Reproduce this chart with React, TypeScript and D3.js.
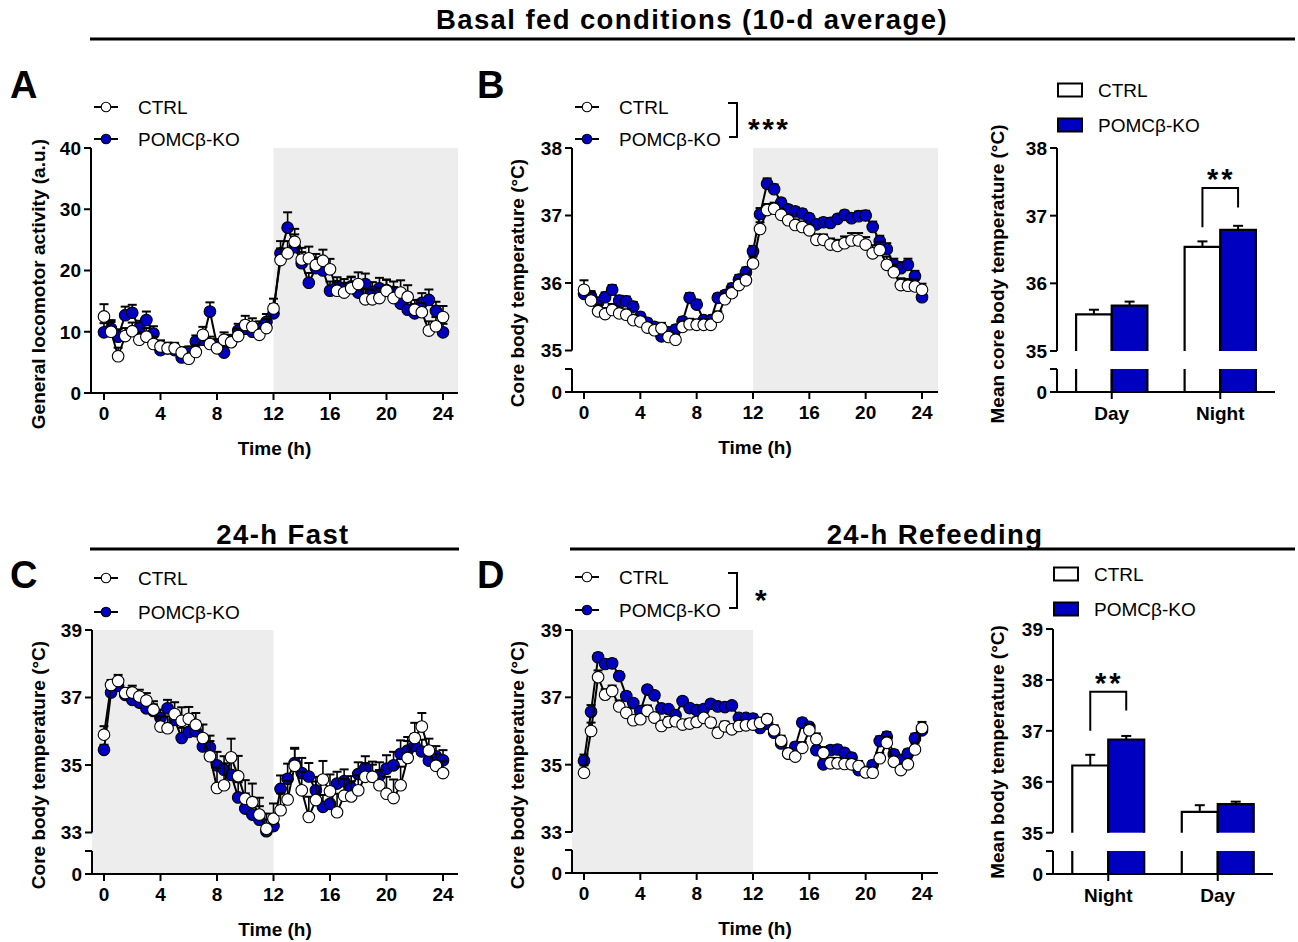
import * as d3 from 'd3';

const FONT = '"Liberation Sans", Arial, Helvetica, sans-serif';
const BLUE = '#0000C0';
const SHADE = '#EDEDED';
const INK = '#000';
const FS = 19;

// sampling times (h)
const HOURS = [0, 0.5, 1, 1.5, 2, 2.5, 3, 3.5, 4, 4.5, 5, 5.5, 6, 6.5, 7, 7.5, 8, 8.5, 9, 9.5, 10, 10.5, 11, 11.5, 12,
  12.5, 13, 13.5, 14, 14.5, 15, 15.5, 16, 16.5, 17, 17.5, 18, 18.5, 19, 19.5, 20, 20.5, 21, 21.5, 22, 22.5, 23, 23.5, 24];
const TIME_TICKS = [0, 4, 8, 12, 16, 20, 24];

// A - locomotor activity
const LOCO_CTRL = [12.5, 10.0, 6.0, 9.3, 10.1, 8.7, 9.2, 8.0, 7.6, 7.3, 7.3, 6.6, 5.6, 6.7, 9.5, 8.0, 7.3, 8.7, 8.3, 9.3, 11.1, 10.8, 9.5, 10.6, 13.8,
  21.7, 22.8, 24.7, 21.8, 22.0, 20.9, 21.6, 20.2, 16.7, 16.4, 17.1, 17.8, 15.3, 15.3, 15.5, 16.7, 15.5, 16.4, 15.7, 13.6, 13.2, 10.2, 10.9, 12.4];
const LOCO_CTRL_SEM = [2.0, 1.6, 1.4, 1.3, 1.4, 1.2, 1.4, 1.2, 1.0, 0.9, 0.9, 0.9, 1.0, 1.1, 1.3, 1.2, 1.0, 1.2, 1.1, 1.2, 1.5, 1.4, 1.2, 1.5, 1.6,
  1.9, 2.0, 2.1, 1.9, 1.9, 1.8, 1.8, 1.7, 1.6, 1.6, 1.8, 1.9, 1.7, 1.6, 1.7, 1.8, 1.8, 2.0, 1.9, 1.6, 1.5, 1.5, 1.5, 1.8];
const LOCO_KO = [9.9, 10.5, 9.2, 12.7, 13.1, 10.6, 11.9, 9.7, 7.0, 7.3, 7.0, 5.8, 6.7, 8.4, 8.7, 13.3, 7.8, 6.6, 8.5, 10.2, 10.5, 10.0, 10.5, 11.6, 13.0,
  22.8, 27.0, 23.8, 21.2, 18.0, 20.4, 20.0, 16.7, 17.4, 17.1, 17.4, 16.4, 17.8, 16.5, 17.1, 16.8, 16.5, 14.6, 13.6, 13.0, 14.7, 15.2, 13.4, 9.9];
const LOCO_KO_SEM = [1.5, 1.4, 1.2, 1.4, 1.3, 1.2, 1.4, 1.2, 0.9, 0.9, 0.9, 0.8, 0.9, 1.0, 1.1, 1.5, 1.0, 0.9, 1.0, 1.1, 1.3, 1.2, 1.2, 1.3, 1.5,
  2.0, 2.5, 2.1, 1.8, 1.6, 1.7, 1.7, 1.5, 1.5, 1.5, 1.6, 1.6, 1.7, 1.6, 1.7, 1.7, 1.7, 1.6, 1.5, 1.5, 1.6, 1.7, 1.5, 1.4];

// B - basal core temperature
const TB_CTRL = [35.90, 35.74, 35.58, 35.54, 35.60, 35.55, 35.53, 35.45, 35.43, 35.34, 35.30, 35.33, 35.20, 35.16, 35.35, 35.39, 35.38, 35.38, 35.38, 35.50, 35.76, 35.85, 35.97, 36.04, 36.29,
  36.80, 37.08, 37.10, 37.01, 36.93, 36.86, 36.83, 36.78, 36.64, 36.64, 36.57, 36.55, 36.59, 36.63, 36.63, 36.57, 36.44, 36.49, 36.27, 36.16, 35.97, 35.96, 35.95, 35.90];
const TB_CTRL_SEM = [0.14, 0.12, 0.10, 0.09, 0.09, 0.09, 0.08, 0.08, 0.08, 0.08, 0.08, 0.08, 0.08, 0.08, 0.08, 0.08, 0.08, 0.08, 0.08, 0.08, 0.09, 0.09, 0.09, 0.09, 0.10,
  0.10, 0.09, 0.09, 0.08, 0.08, 0.08, 0.08, 0.08, 0.08, 0.08, 0.09, 0.09, 0.10, 0.11, 0.11, 0.11, 0.12, 0.12, 0.12, 0.11, 0.10, 0.10, 0.10, 0.09];
const TB_KO = [35.84, 35.80, 35.71, 35.79, 35.90, 35.74, 35.73, 35.65, 35.50, 35.41, 35.35, 35.21, 35.27, 35.31, 35.43, 35.78, 35.68, 35.45, 35.45, 35.78, 35.82, 35.92, 36.05, 36.16, 36.47,
  37.02, 37.47, 37.39, 37.19, 37.09, 37.06, 37.03, 36.96, 36.87, 36.90, 36.89, 36.95, 37.01, 36.96, 36.99, 37.00, 36.83, 36.62, 36.50, 36.27, 36.22, 36.27, 36.10, 35.79];
const TB_KO_SEM = [0.08, 0.08, 0.07, 0.07, 0.07, 0.07, 0.07, 0.07, 0.06, 0.06, 0.06, 0.06, 0.06, 0.06, 0.06, 0.07, 0.07, 0.06, 0.06, 0.06, 0.06, 0.07, 0.07, 0.07, 0.08,
  0.09, 0.08, 0.07, 0.06, 0.06, 0.06, 0.06, 0.06, 0.06, 0.06, 0.06, 0.06, 0.06, 0.06, 0.07, 0.07, 0.08, 0.08, 0.09, 0.09, 0.09, 0.09, 0.08, 0.08];

// B - mean day / night
const BASAL_GROUPS = ['Day', 'Night'];
const BASAL_CTRL = [35.54, 36.54];
const BASAL_CTRL_SEM = [0.07, 0.08];
const BASAL_KO = [35.67, 36.79];
const BASAL_KO_SEM = [0.06, 0.06];

// C - 24-h fast
const TC_CTRL = [35.90, 37.37, 37.49, 37.13, 37.15, 37.03, 36.91, 36.64, 36.14, 36.09, 36.51, 36.31, 36.37, 36.19, 35.80, 35.26, 34.32, 34.40, 35.23, 34.67, 34.00, 33.90, 33.53, 33.11, 33.41,
  33.66, 33.98, 34.98, 34.25, 33.46, 33.96, 34.57, 34.22, 33.60, 34.09, 34.07, 34.25, 34.65, 34.65, 34.40, 34.15, 34.02, 34.40, 35.21, 35.80, 36.14, 35.43, 34.98, 34.76];
const TC_CTRL_SEM = [0.25, 0.15, 0.18, 0.15, 0.20, 0.20, 0.22, 0.25, 0.30, 0.35, 0.35, 0.40, 0.35, 0.35, 0.40, 0.45, 0.60, 0.65, 0.55, 0.60, 0.55, 0.55, 0.50, 0.45, 0.45,
  0.50, 0.55, 0.50, 0.55, 0.60, 0.55, 0.55, 0.50, 0.55, 0.50, 0.45, 0.45, 0.40, 0.45, 0.45, 0.50, 0.55, 0.55, 0.50, 0.45, 0.40, 0.35, 0.35, 0.35];
const TC_KO = [35.45, 37.15, 37.35, 37.08, 36.93, 36.85, 36.68, 36.60, 36.39, 36.68, 36.34, 35.80, 35.98, 36.00, 35.55, 35.52, 34.99, 34.86, 34.71, 34.04, 33.71, 33.53, 33.38, 33.04, 33.19,
  34.29, 34.59, 35.06, 34.76, 34.66, 34.25, 33.76, 33.85, 34.45, 34.52, 34.32, 34.73, 34.91, 34.66, 34.68, 34.89, 34.99, 35.33, 35.43, 35.57, 35.40, 35.13, 35.26, 35.14];
const TC_KO_SEM = [0.15, 0.15, 0.15, 0.15, 0.15, 0.18, 0.20, 0.20, 0.25, 0.25, 0.25, 0.30, 0.30, 0.30, 0.30, 0.35, 0.40, 0.40, 0.45, 0.45, 0.45, 0.40, 0.40, 0.35, 0.35,
  0.40, 0.45, 0.45, 0.45, 0.40, 0.40, 0.35, 0.35, 0.35, 0.35, 0.35, 0.35, 0.35, 0.35, 0.40, 0.40, 0.40, 0.40, 0.40, 0.35, 0.35, 0.35, 0.30, 0.30];

// D - 24-h refeeding
const TD_CTRL = [34.76, 36.00, 37.60, 37.08, 37.19, 36.73, 36.54, 36.32, 36.35, 36.60, 36.40, 36.15, 36.27, 36.29, 36.19, 36.22, 36.27, 36.39, 36.25, 35.95, 36.14, 36.05, 36.15, 36.17, 36.19,
  36.24, 36.35, 36.02, 35.71, 35.33, 35.24, 35.50, 36.02, 35.76, 35.35, 35.04, 35.04, 35.02, 35.01, 34.96, 34.77, 34.76, 35.19, 35.65, 35.09, 34.84, 35.01, 35.45, 36.09];
const TD_CTRL_SEM = [0.22, 0.25, 0.20, 0.16, 0.16, 0.18, 0.15, 0.14, 0.14, 0.16, 0.15, 0.14, 0.14, 0.13, 0.13, 0.13, 0.13, 0.13, 0.13, 0.14, 0.14, 0.14, 0.13, 0.13, 0.13,
  0.14, 0.14, 0.15, 0.15, 0.16, 0.16, 0.17, 0.18, 0.17, 0.17, 0.16, 0.16, 0.16, 0.15, 0.15, 0.15, 0.15, 0.16, 0.18, 0.17, 0.17, 0.17, 0.18, 0.18];
const TD_KO = [35.12, 36.57, 38.19, 37.99, 38.01, 37.63, 37.04, 36.83, 36.59, 37.23, 37.06, 36.67, 36.65, 36.47, 36.89, 36.68, 36.62, 36.65, 36.81, 36.73, 36.71, 36.76, 36.39, 36.39, 36.37,
  36.09, 36.22, 35.95, 35.63, 35.33, 35.53, 36.25, 36.12, 35.43, 35.01, 35.43, 35.45, 35.35, 35.21, 34.84, 34.79, 34.99, 35.70, 35.83, 35.31, 35.14, 35.33, 35.78, 36.02];
const TD_KO_SEM = [0.18, 0.20, 0.12, 0.12, 0.12, 0.12, 0.12, 0.10, 0.10, 0.10, 0.10, 0.10, 0.10, 0.10, 0.10, 0.10, 0.10, 0.10, 0.10, 0.10, 0.10, 0.10, 0.10, 0.10, 0.12,
  0.12, 0.14, 0.14, 0.12, 0.12, 0.12, 0.12, 0.12, 0.12, 0.12, 0.12, 0.12, 0.12, 0.12, 0.12, 0.12, 0.12, 0.14, 0.14, 0.12, 0.12, 0.12, 0.14, 0.14];

// D - mean night / day
const REFEED_GROUPS = ['Night', 'Day'];
const REFEED_CTRL = [36.32, 35.41];
const REFEED_CTRL_SEM = [0.21, 0.13];
const REFEED_KO = [36.83, 35.56];
const REFEED_KO_SEM = [0.07, 0.05];

type LineCfg = {
  axisX: number; x0: number; x1: number; right: number;
  top: number; low: number; base: number; breakAt: number | null;
  domain: [number, number]; ticks: number[]; shade: [number, number];
  ctrl: number[]; ctrlSem: number[]; ko: number[]; koSem: number[];
  yLabel: string; yLabelX: number; yLabelY: number; legendX: number; legendY: [number, number];
  sig?: { label: string; x: number; textX: number };
};

function TimePanel({ c }: { c: LineCfg }) {
  const x = d3.scaleLinear().domain([0, 24]).range([c.x0, c.x1]);
  const y = d3.scaleLinear().domain(c.domain).range([c.low, c.top]);
  const line = d3.line<number>().x((_, i) => x(HOURS[i])).y(v => y(v));
  const shadeL = c.shade[0] === 0 ? c.axisX : x(c.shade[0]);
  const shadeR = c.shade[1] === 24 ? c.right : x(c.shade[1]);
  const series = [
    { key: 'ko', vals: c.ko, sem: c.koSem, fill: BLUE },
    { key: 'ctrl', vals: c.ctrl, sem: c.ctrlSem, fill: '#fff' },
  ];
  const axisBottom = c.breakAt === null ? c.base : c.low;

  return (
    <g>
      <rect x={shadeL} y={c.top} width={shadeR - shadeL} height={c.base - c.top} fill={SHADE} />

      {/* y axis */}
      <line x1={c.axisX} x2={c.axisX} y1={c.top} y2={axisBottom} stroke={INK} strokeWidth={2} />
      {c.ticks.map(t => (
        <g key={t}>
          <line x1={c.axisX - 7} x2={c.axisX} y1={y(t)} y2={y(t)} stroke={INK} strokeWidth={2} />
          <text x={c.axisX - 10} y={y(t)} dy="0.36em" textAnchor="end" fontWeight="bold" fontSize={FS}>{t}</text>
        </g>
      ))}
      {c.breakAt !== null && (
        <g>
          <line x1={c.axisX - 7} x2={c.axisX} y1={c.breakAt} y2={c.breakAt} stroke={INK} strokeWidth={2} />
          <line x1={c.axisX} x2={c.axisX} y1={c.breakAt} y2={c.base} stroke={INK} strokeWidth={2} />
          <line x1={c.axisX - 7} x2={c.axisX} y1={c.base} y2={c.base} stroke={INK} strokeWidth={2} />
          <text x={c.axisX - 10} y={c.base} dy="0.36em" textAnchor="end" fontWeight="bold" fontSize={FS}>0</text>
        </g>
      )}

      {/* x axis */}
      <line x1={c.axisX} x2={c.right} y1={c.base} y2={c.base} stroke={INK} strokeWidth={2} />
      {TIME_TICKS.map(t => (
        <g key={t}>
          <line x1={x(t)} x2={x(t)} y1={c.base} y2={c.base + 7} stroke={INK} strokeWidth={2} />
          <text x={x(t)} y={c.base + 27} textAnchor="middle" fontWeight="bold" fontSize={FS}>{t}</text>
        </g>
      ))}
      <text x={(c.axisX + c.right) / 2} y={c.base + 62} textAnchor="middle" fontWeight="bold" fontSize={FS}>Time (h)</text>
      <text transform={`translate(${c.yLabelX},${c.yLabelY}) rotate(-90)`} dy="0.35em"
        textAnchor="middle" fontWeight="bold" fontSize={FS}>{c.yLabel}</text>

      {/* data: KO first, CTRL drawn on top */}
      {series.map(s => (
        <g key={s.key}>
          {s.vals.map((v, i) => (
            <g key={i}>
              <line x1={x(HOURS[i])} x2={x(HOURS[i])} y1={y(v)} y2={y(v + s.sem[i])} stroke={INK} strokeWidth={1.6} />
              <line x1={x(HOURS[i]) - 4.5} x2={x(HOURS[i]) + 4.5} y1={y(v + s.sem[i])} y2={y(v + s.sem[i])} stroke={INK} strokeWidth={2} />
            </g>
          ))}
          <path d={line(s.vals) ?? ''} fill="none" stroke={INK} strokeWidth={2} />
          {s.vals.map((v, i) => (
            <circle key={i} cx={x(HOURS[i])} cy={y(v)} r={5.8} fill={s.fill} stroke={INK} strokeWidth={1.1} />
          ))}
        </g>
      ))}

      {/* legend */}
      {[{ lab: 'CTRL', fill: '#fff' }, { lab: 'POMCβ-KO', fill: BLUE }].map((l, i) => (
        <g key={l.lab}>
          <line x1={c.legendX - 12} x2={c.legendX + 12} y1={c.legendY[i]} y2={c.legendY[i]} stroke={INK} strokeWidth={2} />
          <circle cx={c.legendX} cy={c.legendY[i]} r={4.8} fill={l.fill} stroke={INK} strokeWidth={1.1} />
          <text x={c.legendX + 32} y={c.legendY[i]} dy="0.36em" fontSize={FS}>{l.lab}</text>
        </g>
      ))}
      {c.sig && (
        <g>
          <path d={`M${c.sig.x - 9},${c.legendY[0] - 4}H${c.sig.x}V${c.legendY[1] - 2}H${c.sig.x - 8}`}
            fill="none" stroke={INK} strokeWidth={2} />
          <text x={c.sig.textX} y={(c.legendY[0] + c.legendY[1]) / 2 + 16} fontSize={30} fontWeight="bold" letterSpacing={2.5}>{c.sig.label}</text>
        </g>
      )}
    </g>
  );
}

type BarCfg = {
  axisX: number; right: number; top: number; low: number; base: number; breakAt: number;
  domain: [number, number]; ticks: number[]; groups: string[];
  ctrl: number[]; ctrlSem: number[]; ko: number[]; koSem: number[];
  yLabel: string; yLabelX: number; yLabelY: number; legendY: [number, number];
  sig: { group: string; top: number; left: number; right: number; label: string };
};

function BarPanel({ c }: { c: BarCfg }) {
  const y = d3.scaleLinear().domain(c.domain).range([c.low, c.top]);
  const xg = d3.scaleBand().domain(c.groups).range([c.axisX, c.right]).paddingInner(0.343).paddingOuter(0.176);
  const xs = d3.scaleBand().domain(['ctrl', 'ko']).range([0, xg.bandwidth()]);
  const bars = c.groups.flatMap((g, gi) => [
    { g, k: 'ctrl', v: c.ctrl[gi], e: c.ctrlSem[gi], fill: '#fff' },
    { g, k: 'ko', v: c.ko[gi], e: c.koSem[gi], fill: BLUE },
  ]);
  const sx = xg(c.sig.group) ?? 0;
  const sl = sx + xs.bandwidth() / 2;
  const sr = sx + xs.bandwidth() * 1.5;

  return (
    <g>
      {bars.map(b => {
        const x0 = (xg(b.g) ?? 0) + (xs(b.k) ?? 0);
        const x1 = x0 + xs.bandwidth();
        const yt = y(b.v);
        const xm = (x0 + x1) / 2;
        return (
          <g key={b.g + b.k}>
            <line x1={xm} x2={xm} y1={yt} y2={y(b.v + b.e)} stroke={INK} strokeWidth={2} />
            <line x1={xm - 5} x2={xm + 5} y1={y(b.v + b.e)} y2={y(b.v + b.e)} stroke={INK} strokeWidth={2} />
            <rect x={x0} y={yt} width={x1 - x0} height={c.low - yt} fill={b.fill} />
            <rect x={x0} y={c.breakAt} width={x1 - x0} height={c.base - c.breakAt} fill={b.fill} />
            <path d={`M${x0},${c.low}V${yt}H${x1}V${c.low}M${x0},${c.breakAt}V${c.base}M${x1},${c.breakAt}V${c.base}`}
              fill="none" stroke={INK} strokeWidth={2.2} />
          </g>
        );
      })}

      {/* y axis */}
      <line x1={c.axisX} x2={c.axisX} y1={c.top} y2={c.low} stroke={INK} strokeWidth={2} />
      <line x1={c.axisX} x2={c.axisX} y1={c.breakAt} y2={c.base} stroke={INK} strokeWidth={2} />
      <line x1={c.axisX - 7} x2={c.axisX} y1={c.breakAt} y2={c.breakAt} stroke={INK} strokeWidth={2} />
      {c.ticks.map(t => (
        <g key={t}>
          <line x1={c.axisX - 7} x2={c.axisX} y1={y(t)} y2={y(t)} stroke={INK} strokeWidth={2} />
          <text x={c.axisX - 10} y={y(t)} dy="0.36em" textAnchor="end" fontWeight="bold" fontSize={FS}>{t}</text>
        </g>
      ))}
      <line x1={c.axisX - 7} x2={c.axisX} y1={c.base} y2={c.base} stroke={INK} strokeWidth={2} />
      <text x={c.axisX - 10} y={c.base} dy="0.36em" textAnchor="end" fontWeight="bold" fontSize={FS}>0</text>

      {/* x axis */}
      <line x1={c.axisX} x2={c.right} y1={c.base} y2={c.base} stroke={INK} strokeWidth={2} />
      {c.groups.map(g => {
        const xm = (xg(g) ?? 0) + xg.bandwidth() / 2;
        return (
          <g key={g}>
            <line x1={xm} x2={xm} y1={c.base} y2={c.base + 7} stroke={INK} strokeWidth={2} />
            <text x={xm} y={c.base + 28} textAnchor="middle" fontWeight="bold" fontSize={FS}>{g}</text>
          </g>
        );
      })}
      <text transform={`translate(${c.yLabelX},${c.yLabelY}) rotate(-90)`} dy="0.35em"
        textAnchor="middle" fontWeight="bold" fontSize={FS}>{c.yLabel}</text>

      {/* significance */}
      <path d={`M${sl},${y(c.sig.left)}V${y(c.sig.top)}H${sr}V${y(c.sig.right)}`} fill="none" stroke={INK} strokeWidth={2} />
      <text x={(sl + sr) / 2 + 1} y={y(c.sig.top) + 1} textAnchor="middle" fontSize={29} fontWeight="bold" letterSpacing={3}>{c.sig.label}</text>

      {/* legend */}
      {[{ lab: 'CTRL', fill: '#fff' }, { lab: 'POMCβ-KO', fill: BLUE }].map((l, i) => (
        <g key={l.lab}>
          <rect x={c.axisX + 1} y={c.legendY[i] - 6.5} width={24} height={13} fill={l.fill} stroke={INK} strokeWidth={2} />
          <text x={c.axisX + 41} y={c.legendY[i]} dy="0.36em" fontSize={FS}>{l.lab}</text>
        </g>
      ))}
    </g>
  );
}

const PANEL_A: LineCfg = {
  axisX: 91, x0: 104, x1: 443, right: 458, top: 148, low: 393, base: 393, breakAt: null,
  domain: [0, 40], ticks: [0, 10, 20, 30, 40], shade: [12, 24],
  ctrl: LOCO_CTRL, ctrlSem: LOCO_CTRL_SEM, ko: LOCO_KO, koSem: LOCO_KO_SEM,
  yLabel: 'General locomotor activity (a.u.)', yLabelX: 38, yLabelY: 284, legendX: 106, legendY: [107, 139],
};
const PANEL_B: LineCfg = {
  axisX: 572, x0: 584, x1: 922, right: 938, top: 148, low: 350.5, base: 392, breakAt: 369,
  domain: [35, 38], ticks: [35, 36, 37, 38], shade: [12, 24],
  ctrl: TB_CTRL, ctrlSem: TB_CTRL_SEM, ko: TB_KO, koSem: TB_KO_SEM,
  yLabel: 'Core body temperature (°C)', yLabelX: 517, yLabelY: 283, legendX: 587, legendY: [107, 139],
  sig: { label: '***', x: 737, textX: 748 },
};
const PANEL_C: LineCfg = {
  axisX: 92, x0: 104, x1: 443, right: 458, top: 630, low: 832.5, base: 874, breakAt: 851,
  domain: [33, 39], ticks: [33, 35, 37, 39], shade: [0, 12],
  ctrl: TC_CTRL, ctrlSem: TC_CTRL_SEM, ko: TC_KO, koSem: TC_KO_SEM,
  yLabel: 'Core body temperature (°C)', yLabelX: 38, yLabelY: 765, legendX: 106, legendY: [578, 612],
};
const PANEL_D: LineCfg = {
  axisX: 572, x0: 584, x1: 922, right: 938, top: 630, low: 832, base: 873, breakAt: 850,
  domain: [33, 39], ticks: [33, 35, 37, 39], shade: [0, 12],
  ctrl: TD_CTRL, ctrlSem: TD_CTRL_SEM, ko: TD_KO, koSem: TD_KO_SEM,
  yLabel: 'Core body temperature (°C)', yLabelX: 517, yLabelY: 765, legendX: 587, legendY: [577, 610],
  sig: { label: '*', x: 737, textX: 755 },
};
const BAR_B: BarCfg = {
  axisX: 1057, right: 1275, top: 148, low: 351, base: 392, breakAt: 369,
  domain: [35, 38], ticks: [35, 36, 37, 38], groups: BASAL_GROUPS,
  ctrl: BASAL_CTRL, ctrlSem: BASAL_CTRL_SEM, ko: BASAL_KO, koSem: BASAL_KO_SEM,
  yLabel: 'Mean core body temperature (°C)', yLabelX: 997, yLabelY: 274, legendY: [90, 125],
  sig: { group: 'Night', top: 37.41, left: 36.83, right: 37.12, label: '**' },
};
const BAR_D: BarCfg = {
  axisX: 1053, right: 1273, top: 629, low: 832.7, base: 874, breakAt: 851,
  domain: [35, 39], ticks: [35, 36, 37, 38, 39], groups: REFEED_GROUPS,
  ctrl: REFEED_CTRL, ctrlSem: REFEED_CTRL_SEM, ko: REFEED_KO, koSem: REFEED_KO_SEM,
  yLabel: 'Mean body temperature (°C)', yLabelX: 997, yLabelY: 752, legendY: [574, 609],
  sig: { group: 'Night', top: 37.77, left: 37.0, right: 37.4, label: '**' },
};

export default function App() {
  return (
    <div style={{ position: 'absolute', left: 0, top: 0 }}>
      <svg width={1298} height={942} style={{ display: 'block', background: '#fff' }} fontFamily={FONT} fill={INK}>
        <text x={692} y={29} textAnchor="middle" fontSize={27.5} fontWeight="bold" letterSpacing={1.4}>Basal fed conditions (10-d average)</text>
        <line x1={90} x2={1295} y1={39} y2={39} stroke={INK} strokeWidth={3} />
        <text x={283} y={544} textAnchor="middle" fontSize={27.5} fontWeight="bold" letterSpacing={1.4}>24-h Fast</text>
        <line x1={90} x2={459} y1={549} y2={549} stroke={INK} strokeWidth={3} />
        <text x={935} y={544} textAnchor="middle" fontSize={27.5} fontWeight="bold" letterSpacing={1.4}>24-h Refeeding</text>
        <line x1={570} x2={1295} y1={549} y2={549} stroke={INK} strokeWidth={3} />

        <text x={10} y={98} fontSize={38} fontWeight="bold">A</text>
        <text x={477} y={98} fontSize={38} fontWeight="bold">B</text>
        <text x={10} y={588} fontSize={38} fontWeight="bold">C</text>
        <text x={477} y={588} fontSize={38} fontWeight="bold">D</text>

        <TimePanel c={PANEL_A} />
        <TimePanel c={PANEL_B} />
        <BarPanel c={BAR_B} />
        <TimePanel c={PANEL_C} />
        <TimePanel c={PANEL_D} />
        <BarPanel c={BAR_D} />
      </svg>
    </div>
  );
}
